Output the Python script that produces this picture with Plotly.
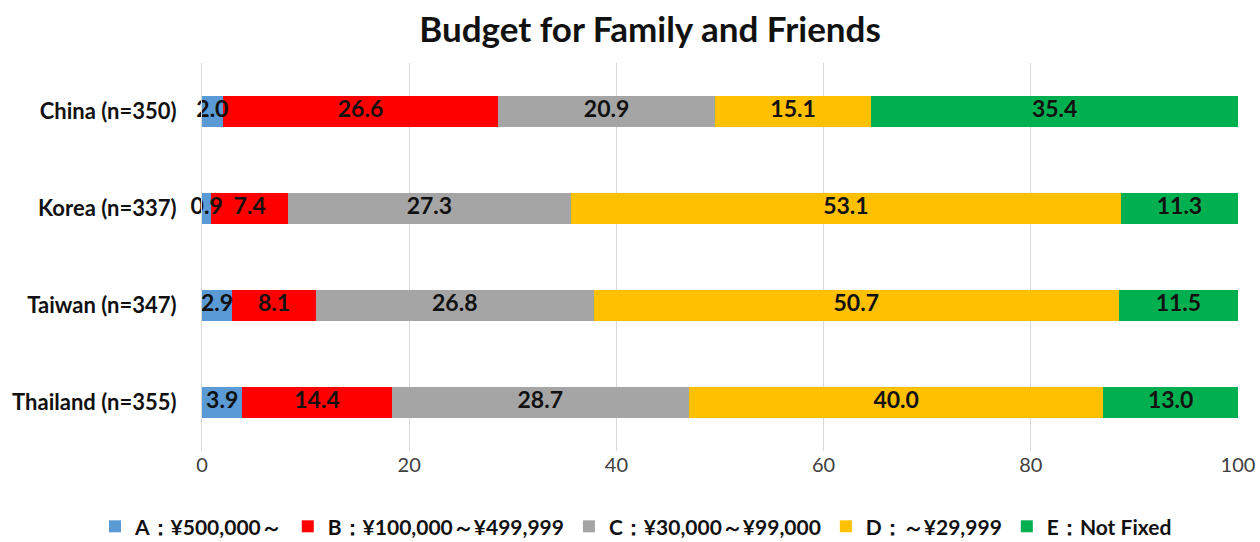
import numpy as np
import plotly.graph_objects as go

categories = ["China (n=350)", "Korea (n=337)", "Taiwan (n=347)", "Thailand (n=355)"]
series_names = ["A：¥500,000～", "B：¥100,000～¥499,999", "C：¥30,000～¥99,000", "D：～¥29,999", "E：Not Fixed"]
a_vals = [2.0, 0.9, 2.9, 3.9]
b_vals = [26.6, 7.4, 8.1, 14.4]
c_vals = [20.9, 27.3, 26.8, 28.7]
d_vals = [15.1, 53.1, 50.7, 40.0]
e_vals = [35.4, 11.3, 11.5, 13.0]
colors = ["#5B9BD5", "#FF0000", "#A5A5A5", "#FFC000", "#00B050"]
tick_vals = [0, 20, 40, 60, 80, 100]

FONT = "Lato"
W, H = 1260, 542
all_vals = [a_vals, b_vals, c_vals, d_vals, e_vals]
fig = go.Figure()
for name, vals, col in zip(series_names, all_vals, colors):
    fig.add_trace(go.Bar(
        y=categories, x=vals, name=name, orientation="h",
        marker=dict(color=col, line=dict(width=0)),
        textposition="none",
    ))

# data labels drawn on top, centred in each segment
base = np.zeros(len(categories))
for vals in all_vals:
    v = np.array(vals)
    mid = base + v / 2
    fig.add_trace(go.Scatter(
        x=mid, y=categories, mode="text", text=[f"{x:.1f}" for x in vals],
        textposition="middle center", showlegend=False, hoverinfo="skip", cliponaxis=False,
        textfont=dict(family=FONT, size=23, color="#111111", weight="bold"),
    ))
    base = base + v

fig.update_layout(
    barmode="stack", bargap=0.69,
    width=W, height=H,
    margin=dict(l=0, r=0, t=63, b=91, autoexpand=False),
    paper_bgcolor="white", plot_bgcolor="white",
    title=dict(text="<b>Budget for Family and Friends</b>", x=650 / W, xanchor="center", y=0.945, yanchor="middle",
               font=dict(family=FONT, size=35, color="#111111")),
    legend=dict(orientation="h", x=636 / W, xanchor="center", y=-0.195, yanchor="middle",
                font=dict(family=FONT, size=21, color="#111111", weight="bold"),
                itemwidth=30, traceorder="normal"),
    xaxis=dict(domain=[202 / W, 1238 / W], range=[0, 100], tickvals=tick_vals, showgrid=True, gridcolor="#D9D9D9",
               zeroline=False, tickfont=dict(family=FONT, size=20, color="#404040"), ticks="", ticklen=0,
               automargin=False),
    yaxis=dict(categoryorder="array", categoryarray=categories[::-1], showline=True, linecolor="#D9D9D9", linewidth=1,
               ticks="", tickfont=dict(family=FONT, size=22, color="#111111", weight="bold"),
               ticklabelstandoff=20, automargin=False),
)
fig.write_html("out.html")
